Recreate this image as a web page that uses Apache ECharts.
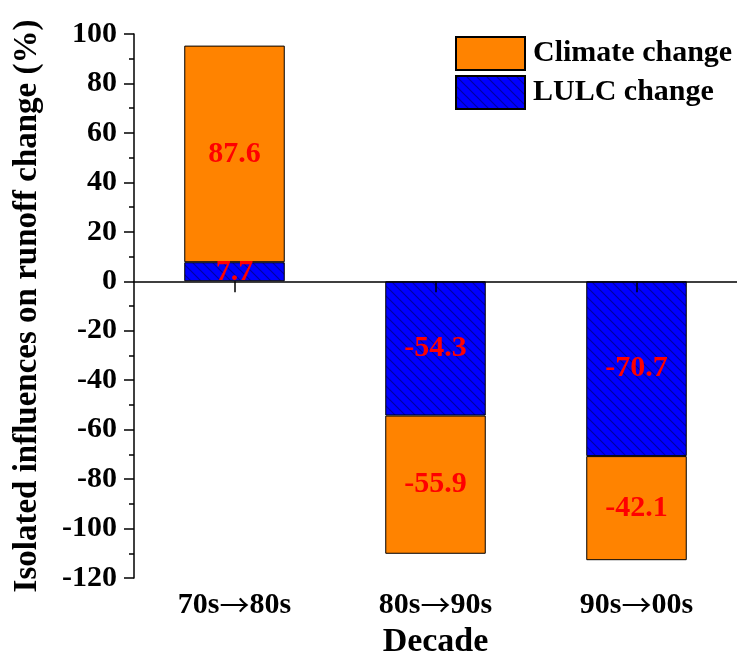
<!DOCTYPE html>
<html><head><meta charset="utf-8">
<script src="https://cdn.jsdelivr.net/npm/echarts@6/dist/echarts.min.js"></script>
<style>html,body{margin:0;padding:0;background:#fff}#c{width:737px;height:655px}</style>
</head><body><div id="c"></div>
<script>
const categories = ['70s\u219280s', '80s\u219290s', '90s\u219200s'];
const lulcValues = [7.7, -54.3, -70.7];
const climateValues = [87.6, -55.9, -42.1];
const yTicks = { min: -120, max: 100, interval: 20 };

const FONT = '"Liberation Serif", "Times New Roman", serif';

function hatch() {
  const s = 10, c = document.createElement('canvas');
  c.width = s; c.height = s;
  const g = c.getContext('2d');
  g.fillStyle = '#0000FF'; g.fillRect(0, 0, s, s);
  g.strokeStyle = '#0000A0'; g.lineWidth = 1.2;
  g.beginPath();
  g.moveTo(-1, -1); g.lineTo(s + 1, s + 1);
  g.moveTo(-2, s - 2); g.lineTo(2, s + 2);
  g.moveTo(s - 2, -2); g.lineTo(s + 2, 2);
  g.stroke();
  return c;
}

const chart = echarts.init(document.getElementById('c'));
const labelStyle = { show: true, position: 'inside', color: '#FF0000', fontFamily: FONT, fontWeight: 'bold', fontSize: 30,
  formatter: p => p.value.toFixed(1) };
chart.setOption({
  animation: false,
  grid: { left: 134, right: 0, top: 34, bottom: 77, containLabel: false, outerBoundsMode: 'none' },
  legend: {
    orient: 'vertical', left: 455, top: 36, padding: 0, itemWidth: 69, itemHeight: 33, itemGap: 4, icon: 'rect',
    data: ['Climate change', 'LULC change'],
    textStyle: { fontFamily: FONT, fontWeight: 'bold', fontSize: 30, color: '#000', padding: [0, 0, 0, 3] }
  },
  xAxis: [
    { type: 'category', data: categories, position: 'bottom',
      axisLine: { show: false, onZero: false }, axisTick: { show: false },
      axisLabel: { interval: 0, hideOverlap: false, color: '#000', fontFamily: FONT, fontWeight: 'bold', fontSize: 30, margin: 12,
        formatter: v => v.replace('\u2192', '{a|\u2192}'),
        rich: { a: { fontFamily: '"Noto Sans CJK JP"', fontWeight: 'normal', fontSize: 30, color: '#000' } } },
      name: 'Decade', nameLocation: 'middle', nameGap: 44,
      nameTextStyle: { color: '#000', fontFamily: FONT, fontWeight: 'bold', fontSize: 34 } },
    { type: 'category', data: categories, position: 'top', z: 10,
      axisLine: { show: true, onZero: true, lineStyle: { color: '#000', width: 1.5 } },
      axisTick: { show: true, inside: true, alignWithLabel: true, length: 11, lineStyle: { color: '#000', width: 1.5 } },
      axisLabel: { show: false } }
  ],
  yAxis: {
    type: 'value', min: yTicks.min, max: yTicks.max, interval: yTicks.interval,
    axisLine: { show: true, onZero: false, lineStyle: { color: '#000', width: 1.5 } },
    axisTick: { show: true, length: 10, lineStyle: { color: '#000', width: 1.5 } },
    minorTick: { show: true, splitNumber: 2, length: 5, lineStyle: { color: '#000', width: 1.5 } },
    splitLine: { show: false },
    axisLabel: { color: '#000', fontFamily: FONT, fontWeight: 'bold', fontSize: 30, margin: 17 },
    name: 'Isolated influences on runoff change (%)', nameLocation: 'middle', nameGap: 90,
    nameTextStyle: { color: '#000', fontFamily: FONT, fontWeight: 'bold', fontSize: 33 }
  },
  series: [
    { name: 'LULC change', type: 'bar', stack: 'total', data: lulcValues, barWidth: '50%',
      itemStyle: { color: { image: hatch(), repeat: 'repeat' }, borderColor: '#000', borderWidth: 1 },
      label: labelStyle },
    { name: 'Climate change', type: 'bar', stack: 'total', data: climateValues, barWidth: '50%',
      itemStyle: { color: '#FF8300', borderColor: '#000', borderWidth: 1 },
      label: labelStyle }
  ]
});
</script></body></html>
